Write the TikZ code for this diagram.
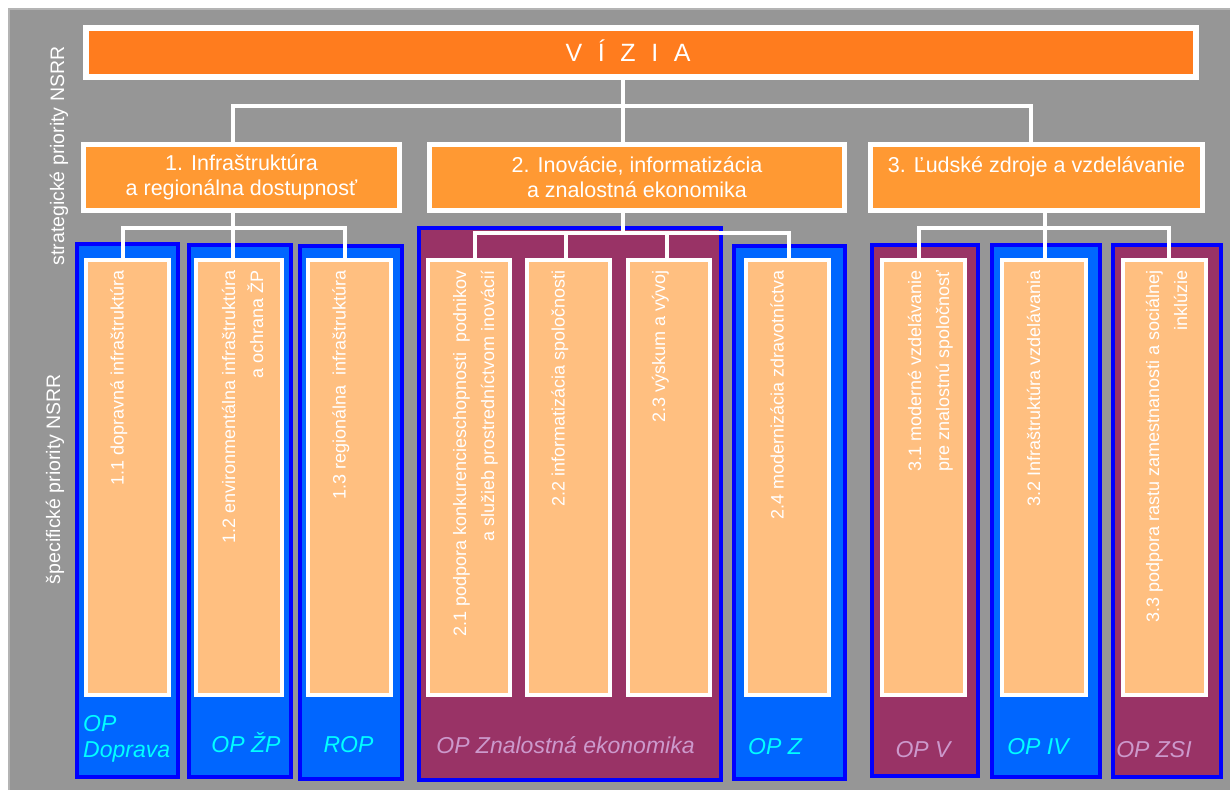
\documentclass[tikz,border=0pt]{standalone}
\usepackage{fontspec}
\setmainfont{Liberation Sans}
\definecolor{bggray}{HTML}{969696}
\definecolor{bgedge}{HTML}{B4B4B4}
\definecolor{viziaor}{HTML}{FF7C1E}
\definecolor{prio}{HTML}{FF9933}
\definecolor{specfill}{HTML}{FFBF80}
\definecolor{opblue}{HTML}{0066FF}
\definecolor{oppurple}{HTML}{993366}
\definecolor{opborder}{HTML}{0000FF}
\definecolor{cyantext}{HTML}{00FFFF}
\definecolor{pinktext}{HTML}{CC99CC}
\begin{document}
\begin{tikzpicture}[x=1pt,y=-1pt,
  conn/.style={draw=white, line width=3.5pt},
  lvlbox/.style={draw=white, line width=5pt, fill=prio, text=white, align=center,
    inner sep=0pt, minimum height=66pt, font=\fontsize{21.5}{25}\selectfont},
  specbox/.style={draw=white, line width=4pt, fill=specfill, minimum height=435pt, inner sep=0pt},
  opbluebox/.style={draw=opborder, line width=4pt, fill=opblue, inner sep=0pt},
  oppurplebox/.style={draw=opborder, line width=4pt, fill=oppurple, inner sep=0pt},
  vtext/.style={rotate=90, anchor=base east, align=right, inner sep=0pt, text=white,
    font=\fontsize{18}{28}\selectfont},
  sidetext/.style={rotate=90, anchor=base, inner sep=0pt, text=white,
    font=\fontsize{19.5}{23}\selectfont},
  oplabel/.style={inner sep=0pt, anchor=base, font=\fontsize{23}{26}\selectfont\itshape},
  opcyan/.style={oplabel, text=cyantext},
  oppink/.style={oplabel, text=pinktext}
]
\useasboundingbox (0,0) rectangle (1230,790);
% background
\fill[bggray] (8,8) rectangle (1230,790);
\draw[bgedge, line width=2pt] (9,790) -- (9,9) -- (1230,9);

% vision
\node[draw=white, line width=6pt, fill=viziaor, minimum width=1110pt, minimum height=49pt,
  inner sep=0pt, text=white, text height=18pt, text depth=0pt,
  font=\fontsize{25}{28}\selectfont] (vizia) at (641,52.5)
  {V\hspace{15.6pt}Í\hspace{15.6pt}Z\hspace{15.6pt}I\hspace{15.6pt}A\hspace*{26pt}};

% strategic priorities
\node[lvlbox, minimum width=316pt] (b1) at (241.5,177.5) {1. Infraštruktúra\\a regionálna dostupnosť};
\node[lvlbox, minimum width=415pt] (b2) at (637,177.5) {2. Inovácie, informatizácia\\a znalostná ekonomika};
\node[lvlbox, minimum width=332pt] (b3) at (1036.5,177.5) {3. Ľudské zdroje a vzdelávanie\\\mbox{}};

% operational programmes
\node[opbluebox, minimum width=101pt, minimum height=533pt] (pdop) at (127.5,510.5) {};
\node[opbluebox, minimum width=102pt, minimum height=532pt] (pzp) at (240,511) {};
\node[opbluebox, minimum width=102pt, minimum height=533pt] (prop) at (351,512.5) {};
\node[oppurplebox, minimum width=302pt, minimum height=552pt] (pze) at (570,504) {};
\node[opbluebox, minimum width=111pt, minimum height=533pt] (pz) at (789.5,512.5) {};
\node[oppurplebox, minimum width=106pt, minimum height=531pt] (pv) at (925,510.5) {};
\node[opbluebox, minimum width=108pt, minimum height=532pt] (piv) at (1046,511) {};
\node[oppurplebox, minimum width=108pt, minimum height=532pt] (pzsi) at (1167,511) {};

% specific priorities
\node[specbox, minimum width=83pt] (i11) at (127.5,477.5) {};
\node[specbox, minimum width=86pt] (i12) at (239,477.5) {};
\node[specbox, minimum width=83pt] (i13) at (349.5,477.5) {};
\node[specbox, minimum width=82pt] (i21) at (469,477.5) {};
\node[specbox, minimum width=83pt] (i22) at (568.5,477.5) {};
\node[specbox, minimum width=82pt] (i23) at (669,477.5) {};
\node[specbox, minimum width=83pt] (i24) at (787.5,477.5) {};
\node[specbox, minimum width=83pt] (i31) at (923.5,477.5) {};
\node[specbox, minimum width=84pt] (i32) at (1044,477.5) {};
\node[specbox, minimum width=83pt] (i33) at (1164.5,477.5) {};

% connector junctions
\coordinate (jv) at (623,106);
\coordinate (ja) at (233,106);
\coordinate (jc) at (1031,106);
\coordinate (k1) at (233,228);
\coordinate (k1a) at (123,228);
\coordinate (k1c) at (345,228);
\coordinate (k2) at (623,233);
\coordinate (k2a) at (475,233);
\coordinate (k2b) at (566,233);
\coordinate (k2c) at (667,233);
\coordinate (k2d) at (789,233);
\coordinate (k3) at (1045,228);
\coordinate (k3a) at (919,228);
\coordinate (k3c) at (1169,228);

% connectors
\draw[conn] (jv |- vizia.south) -- (jv |- b2.north);
\draw[conn] (ja |- b1.north) -- (ja) -- (jc) -- (jc |- b3.north);
\draw[conn] (k1 |- b1.south) -- (k1 |- i12.north);
\draw[conn] (k1a |- i11.north) -- (k1a) -- (k1c) -- (k1c |- i13.north);
\draw[conn] (k2 |- b2.south) -- (k2);
\draw[conn] (k2a |- i21.north) -- (k2a) -- (k2d) -- (k2d |- i24.north);
\draw[conn] (k2b) -- (k2b |- i22.north);
\draw[conn] (k2c) -- (k2c |- i23.north);
\draw[conn] (k3 |- b3.south) -- (k3 |- i32.north);
\draw[conn] (k3a |- i31.north) -- (k3a) -- (k3c) -- (k3c |- i33.north);

% vertical texts (base = baseline of the last line)
\node[vtext] (t11) at (123.5,270) {1.1 dopravná infraštruktúra};
\node[vtext] (t12) at (263,270) {1.2 environmentálna infraštruktúra\\a ochrana ŽP};
\node[vtext] (t13) at (345.5,270) {1.3 regionálna\ \ infraštruktúra};
\node[vtext] (t21) at (494,270) {2.1 podpora konkurencieschopnosti\ \ podnikov\\a služieb prostredníctvom inovácií};
\node[vtext] (t22) at (564.5,270) {2.2 informatizácia spoločnosti};
\node[vtext] (t23) at (665,270) {2.3 výskum a vývoj};
\node[vtext] (t24) at (783.5,270) {2.4 modernizácia zdravotníctva};
\node[vtext] (t31) at (949,270) {3.1 moderné vzdelávanie\\pre znalostnú spoločnosť};
\node[vtext] (t32) at (1040,270) {3.2 Infraštruktúra vzdelávania};
\node[vtext] (t33) at (1187,270) {3.3 podpora rastu zamestnanosti a sociálnej\\inklúzie};

% side texts
\node[sidetext] (strat) at (64,156) {strategické priority NSRR};
\node[sidetext] (specif) at (60,479) {špecifické priority NSRR};

% programme labels
\node[opcyan, anchor=base west, align=left] (ldop) at (83,757) {OP\\Doprava};
\node[opcyan] (lzp) at (246,752) {OP ŽP};
\node[opcyan] (lrop) at (348.5,752) {ROP};
\node[oppink] (lze) at (565.5,753) {OP Znalostná ekonomika};
\node[opcyan] (lz) at (775,754) {OP Z};
\node[oppink] (lv) at (923,757) {OP V};
\node[opcyan] (liv) at (1038,754) {OP IV};
\node[oppink] (lzsi) at (1154,757) {OP ZSI};
\end{tikzpicture}
\end{document}
